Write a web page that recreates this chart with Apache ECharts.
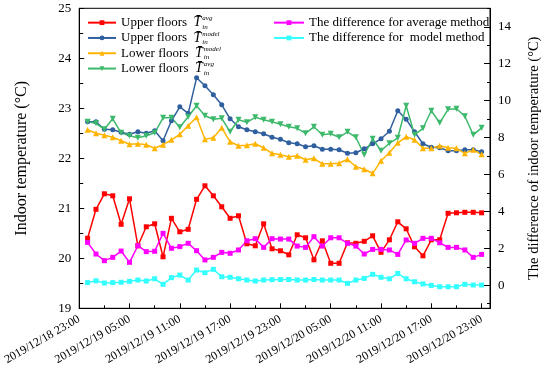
<!DOCTYPE html>
<html><head><meta charset="utf-8">
<script src="https://cdn.jsdelivr.net/npm/echarts@6/dist/echarts.min.js"></script>
<style>html,body{margin:0;padding:0;background:#fff}#c{width:550px;height:382px}</style>
</head><body><div id="c"></div>
<script>
// x tick labels (every 6 hours from 2019/12/18 23:00)
const tickLabels = ['2019/12/18 23:00','2019/12/19 05:00','2019/12/19 11:00','2019/12/19 17:00','2019/12/19 23:00','2019/12/20 05:00','2019/12/20 11:00','2019/12/20 17:00','2019/12/20 23:00'];
// hours elapsed since 2019/12/18 23:00
const hours = [1,2,3,4,5,6,7,8,9,10,11,12,13,14,15,16,17,18,19,20,21,22,23,24,25,26,27,28,29,30,31,32,33,34,35,36,37,38,39,40,41,42,43,44,45,46,47,48];
const upperAvg = [20.40,20.98,21.29,21.25,20.68,21.19,20.25,20.63,20.69,20.03,20.80,20.53,20.58,21.18,21.45,21.25,21.03,20.80,20.85,20.29,20.25,20.69,20.19,20.15,20.07,20.47,20.41,19.97,20.35,19.90,19.90,20.31,20.30,20.34,20.45,20.12,20.37,20.73,20.59,20.23,20.05,20.37,20.37,20.90,20.91,20.92,20.92,20.91];
const upperModel = [22.73,22.73,22.58,22.57,22.52,22.48,22.53,22.50,22.55,22.35,22.75,23.03,22.90,23.61,23.45,23.27,23.07,22.79,22.63,22.57,22.53,22.49,22.42,22.38,22.31,22.29,22.23,22.25,22.18,22.18,22.17,22.10,22.11,22.19,22.29,22.39,22.54,22.95,22.78,22.53,22.29,22.22,22.21,22.15,22.15,22.17,22.17,22.13];
const lowerModel = [22.57,22.50,22.46,22.42,22.35,22.28,22.29,22.27,22.20,22.27,22.37,22.48,22.65,22.82,22.38,22.41,22.61,22.33,22.25,22.26,22.29,22.21,22.10,22.07,22.03,22.05,21.97,22.00,21.89,21.89,21.90,21.98,21.83,21.78,21.70,21.95,22.11,22.31,22.43,22.37,22.20,22.20,22.25,22.21,22.20,22.10,22.17,22.08];
const lowerAvg = [22.73,22.70,22.58,22.79,22.51,22.45,22.41,22.45,22.51,22.81,22.81,22.62,22.83,23.05,22.85,22.78,22.80,22.53,22.77,22.72,22.82,22.77,22.73,22.68,22.63,22.60,22.50,22.63,22.47,22.49,22.42,22.53,22.42,22.07,22.39,22.15,22.30,22.41,23.05,22.47,22.60,22.95,22.71,22.98,22.99,22.84,22.47,22.61];
const diffAvg = [2.32,1.69,1.33,1.51,1.85,1.24,2.14,1.82,1.84,2.81,2.00,2.09,2.27,1.87,1.37,1.51,1.78,1.73,1.91,2.41,2.52,2.05,2.52,2.50,2.50,2.12,2.05,2.63,2.12,2.57,2.57,2.27,2.12,1.69,1.94,1.94,1.91,1.67,2.45,2.27,2.54,2.54,2.30,2.05,2.05,1.91,1.51,1.67];
const diffModel = [0.14,0.24,0.12,0.14,0.16,0.21,0.28,0.23,0.35,0.05,0.41,0.55,0.28,0.82,0.68,0.86,0.46,0.43,0.35,0.28,0.23,0.28,0.30,0.31,0.31,0.28,0.28,0.31,0.28,0.28,0.28,0.10,0.28,0.37,0.59,0.43,0.35,0.64,0.35,0.19,0.07,-0.01,-0.08,-0.08,-0.08,0.05,0.01,0.01];
const rightLabels = [0,2,4,6,8,10,12,14];
const rightMinorTicks = [-1,1,3,5,7,9,11,13,15];

const F = '"Liberation Serif","Times New Roman",serif';
const chart = echarts.init(document.getElementById('c'));
function pts(vals){ return hours.map((h,i)=>[h, vals[i]]); }

const names = {
  ua: 'Upper floors avg', um: 'Upper floors model', lm: 'Lower floors model', la: 'Lower floors avg',
  da: 'The difference for average method', dm: 'The difference for  model method'
};
const legendText = {};
legendText[names.ua] = 'Upper floors  {t|T\u0304}{p|avg}{b|in}';
legendText[names.um] = 'Upper floors  {t|T\u0304}{p|model}{b|in}';
legendText[names.lm] = 'Lower floors  {t|T\u0304}{p|model}{b|in}';
legendText[names.la] = 'Lower floors  {t|T\u0304}{p|avg}{b|in}';
legendText[names.da] = names.da;
legendText[names.dm] = names.dm;

const rich = {
  t: {fontFamily: F, fontStyle: 'italic', fontSize: 14, color: '#000', lineHeight: 15},
  p: {fontFamily: F, fontStyle: 'italic', fontSize: 7, color: '#000', width: 0, lineHeight: 7, verticalAlign: 'top', padding: [0, 0, 0, 1]},
  b: {fontFamily: F, fontStyle: 'italic', fontSize: 7, color: '#000', lineHeight: 7, verticalAlign: 'bottom'}
};
const legendBase = {
  orient: 'vertical', top: 15, padding: 0, itemHeight: 6, itemGap: 0,
  textStyle: {fontFamily: F, fontSize: 13, color: '#000', lineHeight: 15.3, rich: rich},
  formatter: n => legendText[n]
};

function mk(name, vals, color, symbol, size, yIdx, rot){
  return {
    name: name, type: 'line', data: pts(vals), yAxisIndex: yIdx,
    symbol: symbol, symbolSize: size, symbolRotate: rot || 0,
    lineStyle: {color: color, width: 1.5}, itemStyle: {color: color},
    animation: false
  };
}

chart.setOption({
  backgroundColor: '#fff',
  animation: false,
  legend: [
    Object.assign({}, legendBase, {left: 87, itemWidth: 28, data: [names.ua, names.um, names.lm, names.la]}),
    Object.assign({}, legendBase, {left: 273, itemWidth: 30, data: [names.da, names.dm]})
  ],
  grid: {left: 77.5, right: 46, top: 8.3, bottom: 73.7, show: true, borderColor: '#000', borderWidth: 1},
  xAxis: {
    type: 'value', min: 0, max: 49, interval: 6,
    axisLine: {onZero: false, lineStyle: {color: '#000', width: 1}},
    axisTick: {inside: true, length: 5, lineStyle: {color: '#000'}},
    minorTick: {show: true, splitNumber: 2, length: 3, lineStyle: {color: '#000'}},
    splitLine: {show: false},
    axisLabel: {rotate: 30, fontSize: 12, fontFamily: F, color: '#000', margin: 10,
      formatter: v => (v % 6 === 0 && v / 6 < tickLabels.length) ? tickLabels[v / 6] : ''}
  },
  yAxis: [
    {
      type: 'value', min: 19, max: 25, interval: 1, position: 'left',
      name: 'Indoor temperature (°C)', nameLocation: 'middle', nameGap: 49, nameRotate: 90,
      nameTextStyle: {fontFamily: F, fontSize: 16, color: '#000'},
      axisLine: {show: true, lineStyle: {color: '#000', width: 1}},
      axisTick: {inside: true, length: 5, lineStyle: {color: '#000'}},
      minorTick: {show: true, splitNumber: 2, length: 4, lineStyle: {color: '#000'}},
      splitLine: {show: false},
      axisLabel: {fontFamily: F, fontSize: 13, color: '#000', margin: 8}
    },
    {
      type: 'value', min: -1.25, max: 15, position: 'right',
      name: 'The difference of indoor temperature (°C)', nameLocation: 'middle', nameGap: 37, nameRotate: 90,
      nameTextStyle: {fontFamily: F, fontSize: 14.5, color: '#000'},
      axisLine: {show: true, lineStyle: {color: '#000', width: 1}},
      axisTick: {inside: true, length: 6, lineStyle: {color: '#000'}, customValues: rightLabels},
      splitLine: {show: false},
      axisLabel: {fontFamily: F, fontSize: 13, color: '#000', margin: 8, customValues: rightLabels}
    },
    {
      type: 'value', min: -1.25, max: 15, position: 'right',
      axisLine: {show: false},
      axisTick: {show: true, inside: true, length: 3, lineStyle: {color: '#000'}, customValues: rightMinorTicks},
      splitLine: {show: false},
      axisLabel: {show: false}
    }
  ],
  series: [
    mk(names.ua, upperAvg, '#ff0000', 'rect', 5, 0),
    mk(names.um, upperModel, '#2f5f9e', 'circle', 5, 0),
    mk(names.lm, lowerModel, '#ffb400', 'triangle', 6, 0),
    mk(names.la, lowerAvg, '#3cb96a', 'triangle', 6, 0, 180),
    mk(names.da, diffAvg, '#ff00ff', 'rect', 5, 1),
    mk(names.dm, diffModel, '#33ffff', 'rect', 5, 1)
  ]
});
</script></body></html>
